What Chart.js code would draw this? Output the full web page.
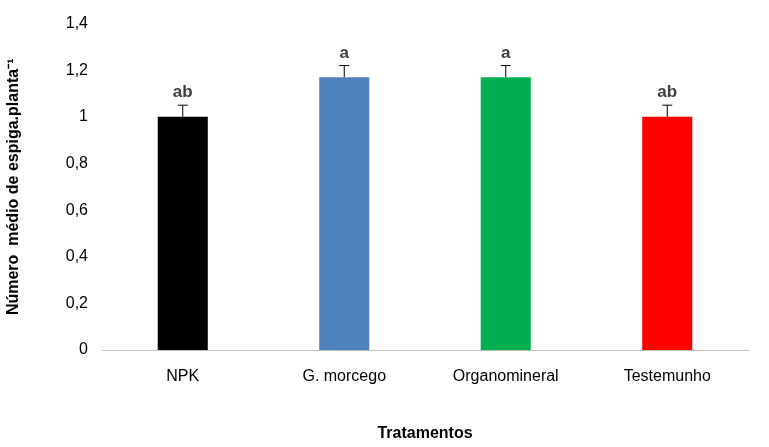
<!DOCTYPE html>
<html><head><meta charset="utf-8">
<script src="https://cdn.jsdelivr.net/npm/chart.js"></script>
<style>body{margin:0;background:#fff}#w{width:769px;height:447px}</style>
</head><body><div id="w"><canvas id="c"></canvas></div>
<script>
const categories = ["NPK", "G. morcego", "Organomineral", "Testemunho"];
const values = [1.0, 1.17, 1.17, 1.0];
const errors = [0.05, 0.05, 0.05, 0.05];
const letters = ["ab", "a", "a", "ab"];
const colors = ["#000000", "#4F81BD", "#00B050", "#FF0000"];
const yTicks = ["0","0,2","0,4","0,6","0,8","1","1,2","1,4"];

const F = "'Liberation Sans', Arial, sans-serif";
const errPlugin = {
  id: 'err',
  afterDatasetsDraw(chart) {
    const ctx = chart.ctx, meta = chart.getDatasetMeta(0), y = chart.scales.y;
    ctx.save();
    meta.data.forEach((bar, i) => {
      const top = y.getPixelForValue(values[i] + errors[i]);
      const base = y.getPixelForValue(values[i]);
      ctx.strokeStyle = '#000'; ctx.lineWidth = 1;
      ctx.beginPath();
      ctx.moveTo(bar.x, base); ctx.lineTo(bar.x, top);
      ctx.moveTo(bar.x - 5, top); ctx.lineTo(bar.x + 5, top);
      ctx.stroke();
      ctx.fillStyle = '#404040';
      ctx.font = 'bold 17px ' + F;
      ctx.textAlign = 'center'; ctx.textBaseline = 'bottom';
      ctx.fillText(letters[i], bar.x, top - 4);
    });
    ctx.restore();
  }
};

new Chart(document.getElementById('c'), {
  type: 'bar',
  data: { labels: categories, datasets: [{ data: values, backgroundColor: colors, categoryPercentage: 1, barPercentage: 0.31 }] },
  options: {
    responsive: true, maintainAspectRatio: false, animation: false,
    layout: { padding: { left: 0, right: 21, top: 16, bottom: 0 } },
    plugins: { legend: { display: false }, tooltip: { enabled: false } },
    scales: {
      x: {
        grid: { display: false, drawTicks: false },
        border: { color: '#BFBFBF' },
        ticks: { color: '#000', font: { size: 16, family: F }, padding: 17 },
        title: { display: true, text: 'Tratamentos', color: '#000', font: { size: 16, weight: 'bold', family: F }, padding: { top: 12 } },
        afterFit(s) { s.height = 97; }
      },
      y: {
        min: 0, max: 1.4,
        grid: { display: false, drawTicks: false },
        border: { display: false },
        ticks: { stepSize: 0.2, color: '#000', font: { size: 16, family: F }, padding: 14,
          callback: (v, i) => yTicks[i] },
        title: { display: true, text: 'Número  médio de espiga.planta⁻¹', color: '#000', font: { size: 16, weight: 'bold', family: F } },
        afterFit(s) { s.width = 102; }
      }
    }
  },
  plugins: [errPlugin]
});
</script></body></html>
